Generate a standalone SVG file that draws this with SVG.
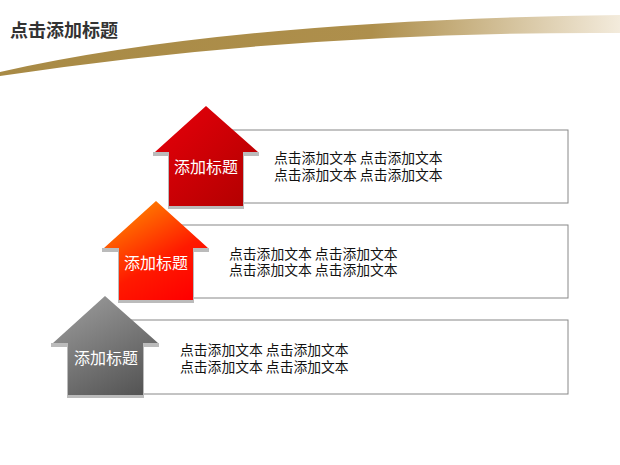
<svg xmlns="http://www.w3.org/2000/svg" width="620" height="465" viewBox="0 0 620 465">
<defs>
<linearGradient id="gold" x1="0" y1="0" x2="1" y2="0">
<stop offset="0" stop-color="#a88a45"/><stop offset="0.6" stop-color="#ae8f4c"/><stop offset="1" stop-color="#f3ebdc"/>
</linearGradient>
<linearGradient id="red" x1="0" y1="0" x2="1" y2="1"><stop offset="0" stop-color="#e8000a"/><stop offset="1" stop-color="#b00000"/></linearGradient>
<linearGradient id="orange" x1="0.2" y1="0" x2="0.8" y2="1"><stop offset="0" stop-color="#ff8a00"/><stop offset="0.6" stop-color="#ff1a00"/><stop offset="1" stop-color="#ff0000"/></linearGradient>
<linearGradient id="grey" x1="0.2" y1="0" x2="0.8" y2="1"><stop offset="0" stop-color="#9a9a9a"/><stop offset="1" stop-color="#555"/></linearGradient>
<style>
.box{fill:#fff;stroke:#888;stroke-width:1}
.shadow{fill:#bbb}
.lbl{font-family:"Noto Sans CJK SC",sans-serif;font-size:16px;fill:#fff;text-anchor:middle}
.txt{font-family:"Noto Sans CJK SC",sans-serif;font-size:13.8px;fill:#111}
</style>
</defs>
<path d="M0,72 Q230,20 620,15 L620,33 Q300,31 0,76 Z" fill="url(#gold)"/>
<text x="10" y="37" font-family="Noto Sans CJK SC,sans-serif" font-size="18" font-weight="bold" fill="#333">点击添加标题</text>
<g id="connectors"/>
<g id="row1">
<rect class="box" x="200" y="130" width="368" height="73"/>
<path class="shadow" d="M153,152 L259,152 L259,156 L244,156 L244,209 L168,209 L168,156 L153,156 Z"/>
<path d="M206,106 L258,152 L243,152 L243,206 L169,206 L169,152 L155,152 Z" fill="url(#red)"/>
<text class="lbl" x="206" y="173">添加标题</text>
<text class="txt" x="274" y="163">点击添加文本 点击添加文本</text>
<text class="txt" x="274" y="180">点击添加文本 点击添加文本</text>
</g>
<g id="row2">
<rect class="box" x="150" y="225" width="418" height="73"/>
<path class="shadow" d="M102,248 L209,248 L209,252 L194,252 L194,303 L118,303 L118,252 L102,252 Z"/>
<path d="M156,201 L208,248 L193,248 L193,300 L119,300 L119,248 L104,248 Z" fill="url(#orange)"/>
<text class="lbl" x="156" y="269">添加标题</text>
<text class="txt" x="229" y="259">点击添加文本 点击添加文本</text>
<text class="txt" x="229" y="275">点击添加文本 点击添加文本</text>
</g>
<g id="row3">
<rect class="box" x="100" y="320" width="468" height="74"/>
<path class="shadow" d="M51,343 L159,343 L159,347 L144,347 L144,398 L67,398 L67,347 L51,347 Z"/>
<path d="M105,296 L158,343 L143,343 L143,395 L68,395 L68,343 L53,343 Z" fill="url(#grey)"/>
<text class="lbl" x="106" y="364">添加标题</text>
<text class="txt" x="180" y="355">点击添加文本 点击添加文本</text>
<text class="txt" x="180" y="372">点击添加文本 点击添加文本</text>
</g>
</svg>
